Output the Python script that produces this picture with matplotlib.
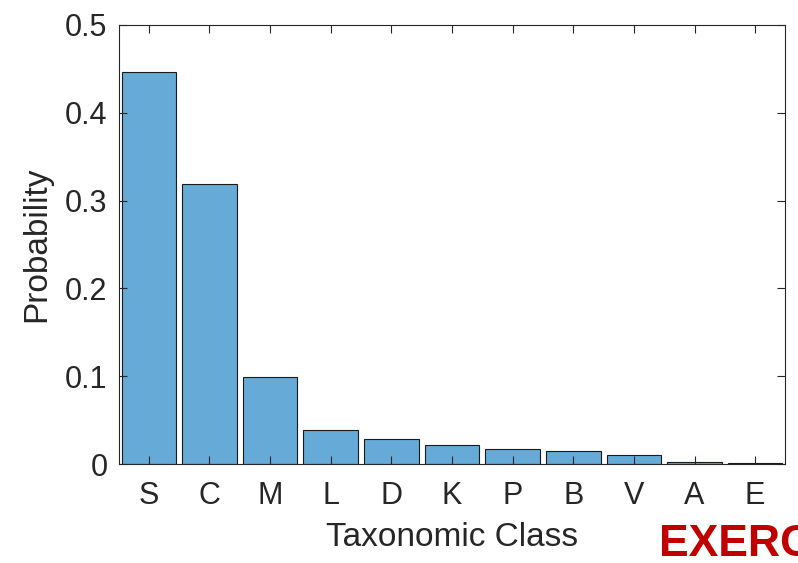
import matplotlib
matplotlib.use("Agg")
import matplotlib.pyplot as plt
import numpy as np

plt.rcParams['font.family'] = ['Liberation Sans', 'DejaVu Sans']

# 数据
classes = ['S', 'C', 'M', 'L', 'D', 'K', 'P', 'B', 'V', 'A', 'E']
probs = [0.447, 0.319, 0.099, 0.039, 0.0285, 0.0215, 0.017, 0.0148, 0.0105, 0.0023, 0.0007]
yticks = [0, 0.1, 0.2, 0.3, 0.4, 0.5]

fig = plt.figure(figsize=(7.98, 5.63), dpi=100)
ax = fig.add_axes([0.1485, 0.1758, 0.8358, 0.7798])

x = np.arange(1, len(classes) + 1)
ax.bar(x, probs, width=0.9, color='#66aad7', edgecolor='#1a1a1a', linewidth=0.8)

ax.set_xlim(0.5, len(classes) + 0.5)
ax.set_ylim(0, 0.5)
ax.set_xticks(x)
ax.set_xticklabels(classes)
ax.set_yticks(yticks)
ax.set_yticklabels(['0', '0.1', '0.2', '0.3', '0.4', '0.5'])

dark = '#262626'
for s in ax.spines.values():
    s.set_color(dark)
    s.set_linewidth(0.8)
ax.tick_params(direction='in', length=6, width=0.8, color=dark, labelcolor=dark,
               labelsize=22, top=True, right=True)
ax.tick_params(axis='x', pad=12)
ax.tick_params(axis='y', pad=8)

ax.set_xlabel('Taxonomic Class', fontsize=24, color=dark, labelpad=8)
ax.set_ylabel('Probability', fontsize=24, color=dark, labelpad=9)

fig.text(0.826, 0.012, 'EXERCISE', color='#c00000', fontsize=32,
         fontweight='bold', ha='left', va='baseline')

fig.savefig('out.png', dpi=100)
